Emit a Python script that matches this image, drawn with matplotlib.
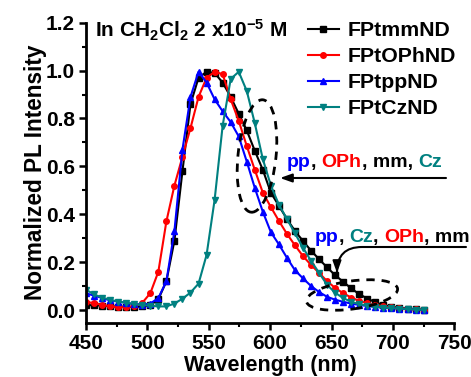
import numpy as np
import matplotlib
matplotlib.use('Agg')
import matplotlib.pyplot as plt
from matplotlib.patches import Ellipse
from matplotlib.ticker import MultipleLocator

# ---------------- data ----------------
wavelength = np.linspace(450, 725, 43)

mm = [0.020, 0.020, 0.018, 0.015, 0.014, 0.013, 0.013, 0.015, 0.020, 0.045,
      0.120, 0.290, 0.580, 0.860, 0.970, 0.995, 0.990, 0.950, 0.890, 0.820,
      0.750, 0.665, 0.585, 0.490, 0.435, 0.380, 0.330, 0.288, 0.248, 0.212,
      0.178, 0.145, 0.118, 0.090, 0.066, 0.048, 0.032, 0.021, 0.014, 0.009,
      0.006, 0.003, 0.001]

oph = [0.035, 0.028, 0.022, 0.015, 0.012, 0.012, 0.015, 0.030, 0.070, 0.160,
       0.370, 0.520, 0.640, 0.760, 0.890, 0.970, 0.995, 0.985, 0.880, 0.790,
       0.685, 0.585, 0.490, 0.430, 0.372, 0.318, 0.270, 0.225, 0.188, 0.155,
       0.120, 0.092, 0.070, 0.052, 0.038, 0.028, 0.020, 0.015, 0.011, 0.008,
       0.005, 0.003, 0.001]

pp = [0.070, 0.060, 0.050, 0.040, 0.035, 0.030, 0.025, 0.022, 0.027, 0.050,
      0.120, 0.330, 0.670, 0.890, 0.995, 0.950, 0.880, 0.830, 0.785, 0.725,
      0.620, 0.510, 0.410, 0.325, 0.274, 0.218, 0.166, 0.132, 0.100, 0.075,
      0.055, 0.043, 0.034, 0.027, 0.021, 0.017, 0.013, 0.010, 0.008, 0.006,
      0.004, 0.002, 0.000]

cz = [0.085, 0.065, 0.052, 0.043, 0.035, 0.030, 0.025, 0.020, 0.018, 0.015,
      0.015, 0.027, 0.047, 0.073, 0.110, 0.230, 0.460, 0.770, 0.965, 0.995,
      0.915, 0.780, 0.630, 0.520, 0.440, 0.380, 0.320, 0.260, 0.205, 0.155,
      0.105, 0.072, 0.050, 0.034, 0.024, 0.018, 0.013, 0.010, 0.008, 0.006,
      0.004, 0.002, 0.001]

series_labels = ['FPtmmND', 'FPtOPhND', 'FPtppND', 'FPtCzND']
colors = ['#000000', '#ff0000', '#0000ff', '#008080']
markers = ['s', 'o', '^', 'v']

# ---------------- style ----------------
plt.rcParams['font.family'] = ['Liberation Sans', 'DejaVu Sans']
plt.rcParams['font.weight'] = 'bold'
plt.rcParams['mathtext.fontset'] = 'custom'
plt.rcParams['mathtext.rm'] = 'Liberation Sans:bold'
plt.rcParams['mathtext.bf'] = 'Liberation Sans:bold'
plt.rcParams['mathtext.default'] = 'bf'

W, H = 471, 377
fig = plt.figure(figsize=(W / 100, H / 100), dpi=100)
ax = fig.add_axes([86 / W, 1 - 322.7 / H, (454.3 - 86) / W, (322.7 - 22.7) / H])

for y, lab, c, m in zip([mm, oph, pp, cz], series_labels, colors, markers):
    ax.plot(wavelength, y, color=c, marker=m, markersize=4, lw=1.5, label=lab)

ax.set_xlim(450, 750)
ax.set_ylim(-0.053, 1.2)
ax.xaxis.set_major_locator(MultipleLocator(50))
ax.xaxis.set_minor_locator(MultipleLocator(25))
ax.set_yticks(np.arange(0, 1.21, 0.2))
ax.set_yticklabels(['%.1f' % v for v in np.arange(0, 1.21, 0.2)])
ax.yaxis.set_minor_locator(MultipleLocator(0.1))

for s in ['top', 'right']:
    ax.spines[s].set_visible(False)
for s in ['left', 'bottom']:
    ax.spines[s].set_linewidth(2)

ax.tick_params(which='major', direction='out', length=5, width=1.8,
               labelsize=15, pad=3)
ax.tick_params(which='minor', direction='out', length=3, width=1.5)
for lbl in ax.get_xticklabels() + ax.get_yticklabels():
    lbl.set_fontweight('bold')

ax.set_xlabel('Wavelength (nm)', fontsize=15.5, fontweight='bold', labelpad=1.5)
ax.set_ylabel('Normalized PL Intensity', fontsize=16.3, fontweight='bold', labelpad=-1)

# legend
leg = ax.legend(loc='upper left', bbox_to_anchor=(308 / W, 1 - 21 / H),
                bbox_transform=fig.transFigure, frameon=False,
                prop={'size': 15.3, 'weight': 'bold'}, handlelength=1.45,
                handletextpad=0.4, labelspacing=0.33, borderpad=0,
                borderaxespad=0)

# concentration note
fig.text(95 / W, 1 - 30 / H, r'In CH$_2$Cl$_2$ 2 x10$^{-5}$ M', fontsize=15,
         fontweight='bold', va='center', ha='left')


def multicolor(x_px, y_px, parts, size=14):
    t = fig.text(x_px / W, 1 - y_px / H, parts[0][0], color=parts[0][1],
                 fontsize=size, fontweight='bold', va='center', ha='left')
    prev = t
    for s, c in parts[1:]:
        prev = ax.annotate(s, xy=(1, 0), xycoords=prev, va='bottom', ha='left',
                           color=c, fontsize=size, fontweight='bold',
                           annotation_clip=False)
    return t


multicolor(287, 163, [('pp', colors[2]), (', ', 'k'), ('OPh', colors[1]),
                      (', mm, ', 'k'), ('Cz', colors[3])])
multicolor(315, 237, [('pp', colors[2]), (', ', 'k'), ('Cz', colors[3]),
                      (', ', 'k'), ('OPh', colors[1]), (', mm', 'k')])

# arrows
ax.annotate('', xy=(280, H - 178), xycoords='figure pixels',
            xytext=(446, H - 178), textcoords='figure pixels',
            arrowprops=dict(arrowstyle='-|>,head_length=0.7,head_width=0.25',
                            lw=1.5, color='k', shrinkA=0, shrinkB=0))
ax.annotate('', xy=(337, H - 273), xycoords='figure pixels',
            xytext=(466, H - 247), textcoords='figure pixels',
            arrowprops=dict(arrowstyle='-|>,head_length=0.7,head_width=0.25',
                            lw=1.5, color='k', shrinkA=0, shrinkB=0,
                            connectionstyle='angle,angleA=0,angleB=90,rad=25'))

# dashed ellipses
e1 = Ellipse((2.57, (H - 156) / 100), 0.38, 1.13, angle=-6,
             transform=fig.dpi_scale_trans, fill=False, ls=(0, (3, 2.5)),
             lw=2, color='k')
e2 = Ellipse((3.52, (H - 295) / 100), 0.92, 0.28, angle=8,
             transform=fig.dpi_scale_trans, fill=False, ls=(0, (3, 2.5)),
             lw=2, color='k')
fig.add_artist(e1)
fig.add_artist(e2)

fig.savefig('out.png', dpi=100)
